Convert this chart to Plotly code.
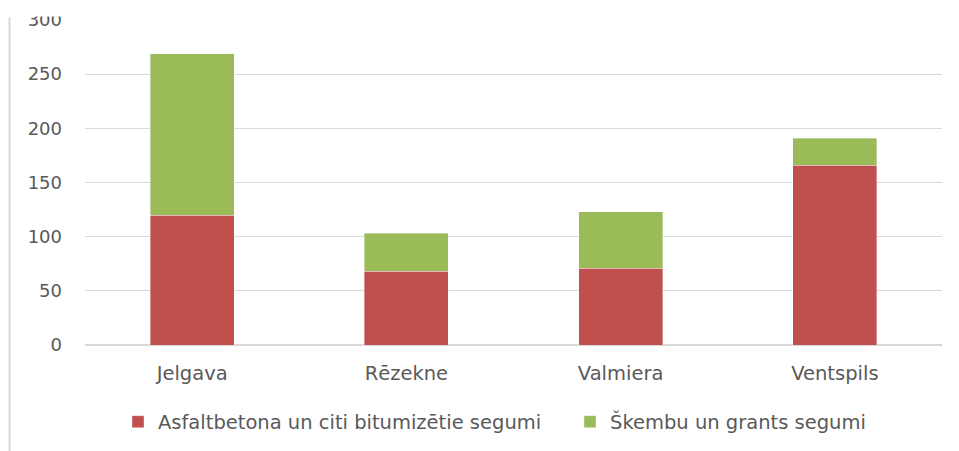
import plotly.graph_objects as go

# Road surface length by city (stacked)
cities = ["Jelgava", "Rēzekne", "Valmiera", "Ventspils"]
asphalt = [120, 68, 71, 166]
gravel = [149, 35, 52, 25]
series_names = ["Asfaltbetona un citi bitumizētie segumi", "Škembu un grants segumi"]
y_ticks = [0, 50, 100, 150, 200, 250, 300]

FONT = "DejaVu Sans"
TEXT = "#595959"
GRID = "#d9d9d9"
W, H = 959, 451

fig = go.Figure()
fig.add_trace(go.Bar(
    x=cities, y=asphalt, name=series_names[0], legend="legend",
    marker=dict(color="#C0504D", line=dict(color="rgba(255,255,255,0.45)", width=0.8)),
))
fig.add_trace(go.Bar(
    x=cities, y=gravel, name=series_names[1], legend="legend2",
    marker=dict(color="#9BBB59", line=dict(color="rgba(255,255,255,0.45)", width=0.8)),
))

legend_common = dict(
    orientation="h", xref="container", xanchor="left",
    yref="container", y=(H - 422) / H, yanchor="middle",
    font=dict(size=19.5, color=TEXT), itemwidth=30, bgcolor="rgba(0,0,0,0)",
)

fig.update_layout(
    width=W, height=H,
    barmode="stack", bargap=0.608,
    paper_bgcolor="white", plot_bgcolor="white",
    margin=dict(l=85, r=17, t=20, b=106, autoexpand=False),
    font=dict(family=FONT, color=TEXT, size=18),
    xaxis=dict(
        showgrid=False, showline=False, ticks="",
        tickfont=dict(size=19.5, color=TEXT), ticklabelstandoff=14,
    ),
    yaxis=dict(
        range=[0, 300], tickvals=y_ticks, showgrid=True, gridcolor=GRID, gridwidth=1.2,
        zeroline=True, zerolinecolor=GRID, zerolinewidth=1.5,
        showline=False, ticks="", tickfont=dict(size=18, color=TEXT),
        ticklabelstandoff=22,
    ),
    legend=dict(x=118 / W, **legend_common),
    legend2=dict(x=570 / W, **legend_common),
    showlegend=True,
    shapes=[
        # frame edge on the left
        dict(type="line", xref="paper", yref="paper", x0=-0.0881, x1=-0.0881,
             y0=1.0077, y1=-0.34, line=dict(color=GRID, width=2), layer="above"),
        # top strip trimmed off
        dict(type="rect", xref="paper", yref="paper", x0=-0.2, x1=1.1,
             y0=1.0108, y1=1.2, fillcolor="white", line=dict(width=0), layer="above"),
    ],
)

fig.write_html("out.html")
